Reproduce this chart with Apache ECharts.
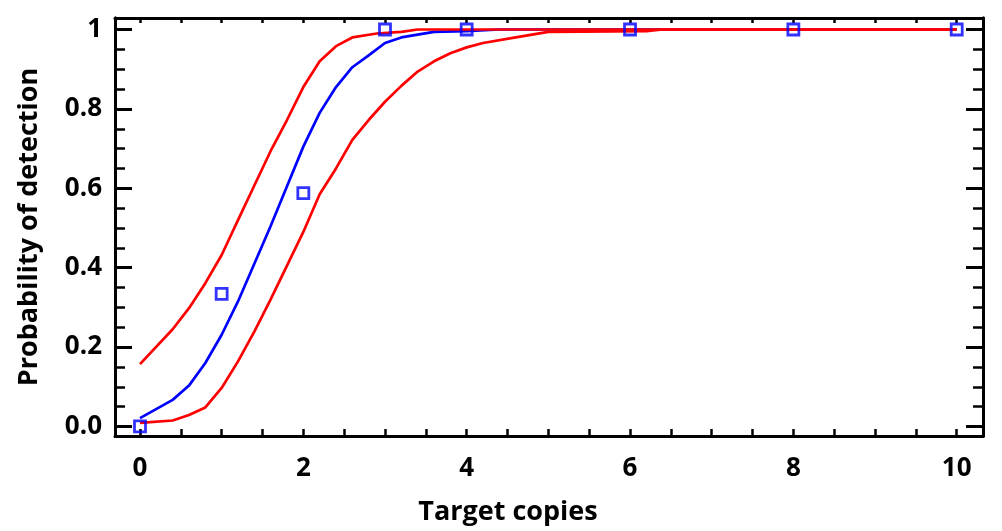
<!DOCTYPE html>
<html>
<head>
<meta charset="utf-8">
<style>
  html, body { margin: 0; padding: 0; background: #fff; }
  #chart { width: 1002px; height: 531px; }
</style>
<script src="https://cdn.jsdelivr.net/npm/echarts@6/dist/echarts.min.js"></script>
</head>
<body>
<div id="chart"></div>
<script>
// observed detection rates
const obsX = [0, 1, 2, 3, 4, 6, 8, 10];
const obsY = [0, 0.334, 0.588, 1, 1, 1, 1, 1];

// fitted probit curve
const fitX = [0, 0.4, 0.6, 0.8, 1.0, 1.2, 1.4, 1.6, 1.8, 2.0, 2.2, 2.4, 2.6, 2.8, 3.0, 3.2, 3.6, 4.0, 4.4, 10];
const fitY = [0.021, 0.067, 0.103, 0.16, 0.231, 0.315, 0.41, 0.505, 0.605, 0.705, 0.79, 0.855, 0.905, 0.935, 0.966, 0.98, 0.994, 0.996, 1.0, 1.0];

// upper confidence limit
const upX = [0, 0.4, 0.6, 0.8, 1.0, 1.2, 1.4, 1.6, 1.8, 2.0, 2.2, 2.4, 2.6, 2.9, 3.2, 3.4, 10];
const upY = [0.157, 0.245, 0.298, 0.361, 0.432, 0.52, 0.607, 0.694, 0.772, 0.855, 0.92, 0.958, 0.98, 0.99, 0.994, 1.0, 1.0];

// lower confidence limit
const lowX = [0, 0.4, 0.6, 0.8, 1.0, 1.2, 1.4, 1.6, 1.8, 2.0, 2.2, 2.4, 2.6, 2.8, 3.0, 3.2, 3.4, 3.6, 3.8, 4.0, 4.2, 4.6, 5.0, 6.2, 6.4, 10];
const lowY = [0.009, 0.015, 0.029, 0.048, 0.097, 0.164, 0.239, 0.32, 0.405, 0.49, 0.585, 0.65, 0.722, 0.772, 0.818, 0.858, 0.894, 0.92, 0.94, 0.955, 0.966, 0.98, 0.994, 0.996, 1.0, 1.0];

const xTicks = [0, 0.5, 1, 1.5, 2, 2.5, 3, 3.5, 4, 4.5, 5, 5.5, 6, 6.5, 7, 7.5, 8, 8.5, 9, 9.5, 10];
const xLabels = [0, 2, 4, 6, 8, 10];
const yMajor = [0, 0.2, 0.4, 0.6, 0.8, 1];
const yMinor = [0, 0.05, 0.1, 0.15, 0.2, 0.25, 0.3, 0.35, 0.4, 0.45, 0.5, 0.55, 0.6, 0.65, 0.7, 0.75, 0.8, 0.85, 0.9, 0.95, 1];

const pairs = (xs, ys) => xs.map((x, i) => [x, ys[i]]);

const font = "Open Sans";
const black = "#000";

function xAx(pos, showLabel) {
  return {
    type: "value",
    position: pos,
    min: -0.306,
    max: 10.322,
    axisLine: { onZero: false, lineStyle: { color: black, width: 3 } },
    axisTick: { inside: true, length: pos === "bottom" ? 7 : 5, customValues: xTicks, lineStyle: { color: black, width: 2.5 } },
    axisLabel: {
      show: showLabel,
      customValues: xLabels,
      margin: 20,
      color: black,
      fontFamily: font,
      fontWeight: "bold",
      fontSize: 26,
    },
    splitLine: { show: false },
  };
}

function yAx(pos, ticks, len, showLabel, width) {
  return {
    type: "value",
    position: pos,
    min: -0.024,
    max: 1.029,
    axisLine: { onZero: false, lineStyle: { color: black, width: 3 } },
    axisTick: { inside: true, length: len, customValues: ticks, lineStyle: { color: black, width: width } },
    axisLabel: {
      show: showLabel,
      customValues: yMajor,
      margin: 13,
      color: black,
      fontFamily: font,
      fontWeight: "bold",
      fontSize: 26,
      formatter: (v) => (v === 1 ? "1" : v.toFixed(1)),
    },
    splitLine: { show: false },
  };
}

const chart = echarts.init(document.getElementById("chart"));

const xMain = xAx("bottom", true);
xMain.name = "Target copies";
xMain.nameLocation = "middle";
xMain.nameGap = 63;
xMain.nameTextStyle = { color: black, fontFamily: font, fontWeight: "bold", fontSize: 27, padding: [0, 82, 0, 0] };

const yMain = yAx("left", yMajor, 17, true, 3);
yMain.name = "Probability of detection";
yMain.nameLocation = "middle";
yMain.nameGap = 72;
yMain.nameTextStyle = { color: black, fontFamily: font, fontWeight: "bold", fontSize: 27 };

chart.setOption({
  animation: false,
  backgroundColor: "#fff",
  grid: { left: 115, right: 19, top: 18, bottom: 94 },
  xAxis: [xMain, xAx("top", false)],
  yAxis: [
    yMain,
    yAx("left", yMinor, 10, false, 2.5),
    yAx("right", yMajor, 17, false, 3),
    yAx("right", yMinor, 10, false, 2.5),
  ],
  series: [
    {
      type: "line",
      data: pairs(fitX, fitY),
      symbol: "none",
      lineStyle: { color: "#0000ff", width: 2.7 },
    },
    {
      type: "line",
      data: pairs(lowX, lowY),
      symbol: "none",
      lineStyle: { color: "#ff0000", width: 2.7 },
    },
    {
      type: "line",
      data: pairs(upX, upY),
      symbol: "none",
      lineStyle: { color: "#ff0000", width: 2.7 },
    },
    {
      type: "scatter",
      data: pairs(obsX, obsY),
      symbol: "rect",
      symbolSize: 11,
      itemStyle: { color: "transparent", borderColor: "#0000ff", borderWidth: 2.8 },
      z: 5,
    },
  ],
});
</script>
</body>
</html>
